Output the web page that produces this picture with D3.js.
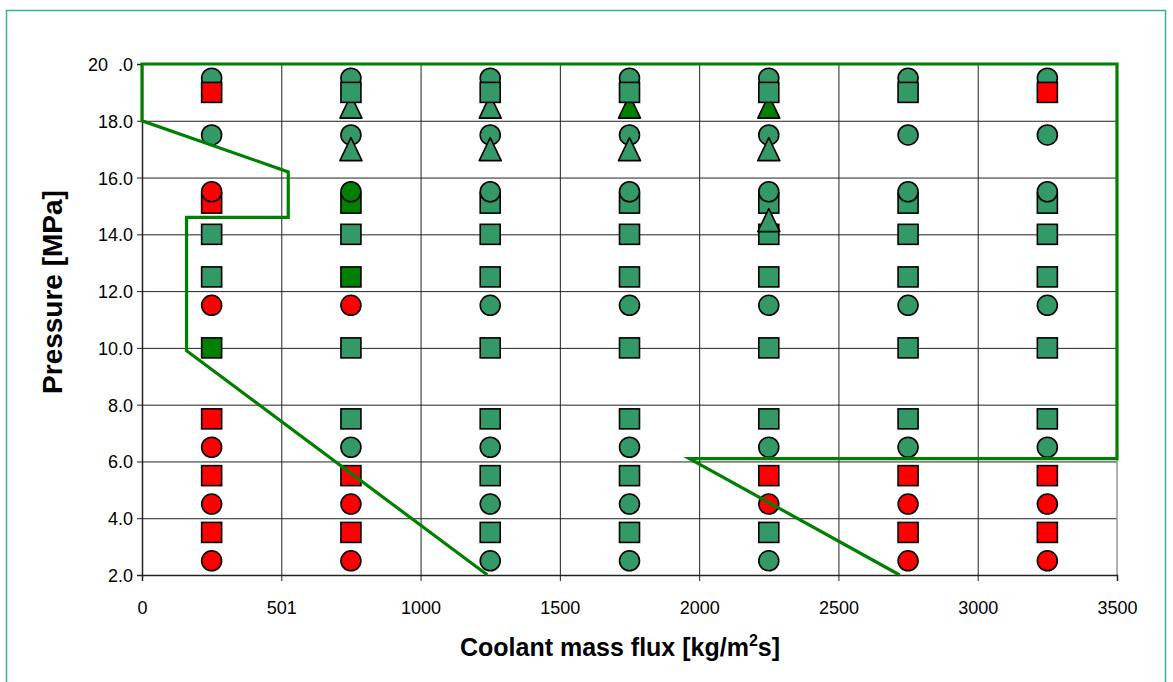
<!DOCTYPE html>
<html>

<head>
    <script src="https://d3js.org/d3.v7.min.js"></script>
    <style>
        body { margin: 0; background: #fff; }
        text { font-family: "Liberation Sans", Arial, sans-serif; }
    </style>
    <script>
        // mass flux columns [kg/m2s] and pressure grid [MPa]
        const xTicks = [0, 500, 1000, 1500, 2000, 2500, 3000, 3500]
        const xTickLabels = ["0", "501", "1000", "1500", "2000", "2500", "3000", "3500"]
        const yTicks = [2, 4, 6, 8, 10, 12, 14, 16, 18, 20]
        const yTickLabels = ["2.0", "4.0", "6.0", "8.0", "10.0", "12.0", "14.0", "16.0", "18.0", "20  .0"]

        // points: [mass flux, pressure, colour key]  m = mid green, d = dark green, r = red
        const topCircles = [
            [250, 19.5, "m"], [750, 19.5, "m"], [1250, 19.5, "m"], [1750, 19.5, "m"],
            [2250, 19.5, "m"], [2750, 19.5, "m"], [3250, 19.5, "m"]
        ]
        const topTriangles = [
            [750, 18.5, "m"], [1250, 18.5, "m"], [1750, 18.5, "d"], [2250, 18.5, "d"]
        ]
        const squares = [
            [250, 19.0, "r"], [250, 15.1, "r"], [250, 14.0, "m"], [250, 12.5, "m"], [250, 10.0, "d"],
            [250, 7.5, "r"], [250, 5.5, "r"], [250, 3.5, "r"],
            [750, 19.0, "m"], [750, 15.1, "d"], [750, 14.0, "m"], [750, 12.5, "d"], [750, 10.0, "m"],
            [750, 7.5, "m"], [750, 5.5, "r"], [750, 3.5, "r"],
            [1250, 19.0, "m"], [1250, 15.1, "m"], [1250, 14.0, "m"], [1250, 12.5, "m"], [1250, 10.0, "m"],
            [1250, 7.5, "m"], [1250, 5.5, "m"], [1250, 3.5, "m"],
            [1750, 19.0, "m"], [1750, 15.1, "m"], [1750, 14.0, "m"], [1750, 12.5, "m"], [1750, 10.0, "m"],
            [1750, 7.5, "m"], [1750, 5.5, "m"], [1750, 3.5, "m"],
            [2250, 19.0, "m"], [2250, 15.1, "m"], [2250, 14.0, "m"], [2250, 12.5, "m"], [2250, 10.0, "m"],
            [2250, 7.5, "m"], [2250, 5.5, "r"], [2250, 3.5, "m"],
            [2750, 19.0, "m"], [2750, 15.1, "m"], [2750, 14.0, "m"], [2750, 12.5, "m"], [2750, 10.0, "m"],
            [2750, 7.5, "m"], [2750, 5.5, "r"], [2750, 3.5, "r"],
            [3250, 19.0, "r"], [3250, 15.1, "m"], [3250, 14.0, "m"], [3250, 12.5, "m"], [3250, 10.0, "m"],
            [3250, 7.5, "m"], [3250, 5.5, "r"], [3250, 3.5, "r"]
        ]
        const circles = [
            [250, 17.5, "m"], [250, 15.5, "r"], [250, 11.5, "r"], [250, 6.5, "r"], [250, 4.5, "r"], [250, 2.5, "r"],
            [750, 17.5, "m"], [750, 15.5, "d"], [750, 11.5, "r"], [750, 6.5, "m"], [750, 4.5, "r"], [750, 2.5, "r"],
            [1250, 17.5, "m"], [1250, 15.5, "m"], [1250, 11.5, "m"], [1250, 6.5, "m"], [1250, 4.5, "m"], [1250, 2.5, "m"],
            [1750, 17.5, "m"], [1750, 15.5, "m"], [1750, 11.5, "m"], [1750, 6.5, "m"], [1750, 4.5, "m"], [1750, 2.5, "m"],
            [2250, 17.5, "m"], [2250, 15.5, "m"], [2250, 11.5, "m"], [2250, 6.5, "m"], [2250, 4.5, "r"], [2250, 2.5, "m"],
            [2750, 17.5, "m"], [2750, 15.5, "m"], [2750, 11.5, "m"], [2750, 6.5, "m"], [2750, 4.5, "r"], [2750, 2.5, "r"],
            [3250, 17.5, "m"], [3250, 15.5, "m"], [3250, 11.5, "m"], [3250, 6.5, "m"], [3250, 4.5, "r"], [3250, 2.5, "r"]
        ]
        const triangles = [
            [750, 17.0, "m"], [1250, 17.0, "m"], [1750, 17.0, "m"], [2250, 17.0, "m"], [2250, 14.5, "m"]
        ]
        // boundary drawn in dark green
        const boundary = [
            [1240, 2.0], [160, 9.9], [160, 14.6], [525, 14.6], [525, 16.2], [0, 18.0], [0, 20.0],
            [3500, 20.0], [3500, 6.1], [1965, 6.1], [2720, 2.0]
        ]

        const colours = { m: "#339966", d: "#008000", r: "#ff0000" }

        function drawChart() {
            const svg = d3.select("#chart")
            const x = d3.scaleLinear().domain([0, 3500]).range([142, 1117])
            const y = d3.scaleLinear().domain([2, 20]).range([575, 64])

            // outer frame
            svg.append("rect")
                .attr("x", 6.5).attr("y", 10.5)
                .attr("width", 1159).attr("height", 700)
                .attr("fill", "none").attr("stroke", "#3aae9e").attr("stroke-width", 1.5)

            // grid
            svg.append("g").selectAll("line")
                .data(yTicks.slice(1, -1))
                .join("line")
                .attr("x1", x(0)).attr("x2", x(3500))
                .attr("y1", d => y(d) + 0.5).attr("y2", d => y(d) + 0.5)
                .attr("stroke", "#222").attr("stroke-width", 1)
            svg.append("g").selectAll("line")
                .data(xTicks.slice(1, -1))
                .join("line")
                .attr("x1", d => x(d) + 0.5).attr("x2", d => x(d) + 0.5)
                .attr("y1", y(20)).attr("y2", y(2))
                .attr("stroke", "#222").attr("stroke-width", 1)
            // right edge of plot
            svg.append("line")
                .attr("x1", x(3500)).attr("x2", x(3500))
                .attr("y1", y(20)).attr("y2", y(2))
                .attr("stroke", "#999").attr("stroke-width", 1.5)

            // axes
            const yAxis = svg.append("g").attr("transform", `translate(${x(0)},0)`)
                .call(d3.axisLeft(y).tickValues(yTicks).tickSize(5).tickFormat((d, i) => yTickLabels[i]))
            yAxis.select(".domain").attr("stroke", "#222").attr("stroke-width", 1.5)
            yAxis.selectAll(".tick line").attr("stroke", "#222")
            yAxis.selectAll(".tick text")
                .attr("x", -9).attr("dy", "0.36em")
                .attr("font-size", 18).attr("fill", "#000")
                .attr("font-family", "Liberation Sans, Arial, sans-serif")
                .style("white-space", "pre")

            const xAxis = svg.append("g").attr("transform", `translate(0,${y(2)})`)
                .call(d3.axisBottom(x).tickValues(xTicks).tickSize(6).tickFormat((d, i) => xTickLabels[i]))
            xAxis.select(".domain").attr("stroke", "#222").attr("stroke-width", 1.5)
            xAxis.selectAll(".tick line").attr("stroke", "#222")
            xAxis.selectAll(".tick text")
                .attr("y", 26).attr("dy", "0.71em")
                .attr("font-size", 18).attr("fill", "#000")
                .attr("font-family", "Liberation Sans, Arial, sans-serif")

            // axis titles
            const xTitle = svg.append("text")
                .attr("x", 620).attr("y", 656)
                .attr("text-anchor", "middle")
                .attr("font-size", 25).attr("font-weight", "bold")
                .text("Coolant mass flux [kg/m")
            xTitle.append("tspan").attr("dy", -10).attr("font-size", 16).text("2")
            xTitle.append("tspan").attr("dy", 10).text("s]")

            svg.append("text")
                .attr("transform", "translate(62,292) rotate(-90)")
                .attr("text-anchor", "middle")
                .attr("font-size", 28).attr("font-weight", "bold")
                .text("Pressure [MPa]")

            const marks = svg.append("g")
            const fillOf = d => colours[d[2]]
            const drawCircles = (data) => marks.append("g").selectAll("circle")
                .data(data).join("circle")
                .attr("cx", d => x(d[0])).attr("cy", d => y(d[1])).attr("r", 10)
                .attr("fill", fillOf).attr("stroke", "#000").attr("stroke-width", 1.6)
            const drawSquares = (data) => marks.append("g").selectAll("rect")
                .data(data).join("rect")
                .attr("x", d => x(d[0]) - 10).attr("y", d => y(d[1]) - 10)
                .attr("width", 20).attr("height", 20)
                .attr("fill", fillOf).attr("stroke", "#000").attr("stroke-width", 1.6)
            const drawTriangles = (data) => marks.append("g").selectAll("path")
                .data(data).join("path")
                .attr("d", "M0,-11.5L11,11.5L-11,11.5Z")
                .attr("transform", d => `translate(${x(d[0])},${y(d[1])})`)
                .attr("fill", fillOf).attr("stroke", "#000").attr("stroke-width", 1.6)
                .attr("stroke-linejoin", "round")

            drawCircles(topCircles)
            drawTriangles(topTriangles)
            drawSquares(squares)
            drawCircles(circles)
            drawTriangles(triangles)

            // boundary line
            svg.append("path")
                .datum(boundary)
                .attr("d", d3.line().x(d => x(d[0])).y(d => y(d[1])))
                .attr("fill", "none")
                .attr("stroke", "#008000")
                .attr("stroke-width", 3.2)
        }
    </script>
</head>

<body onload="drawChart()">
    <svg id="chart" width="1173" height="682"></svg>
</body>

</html>
